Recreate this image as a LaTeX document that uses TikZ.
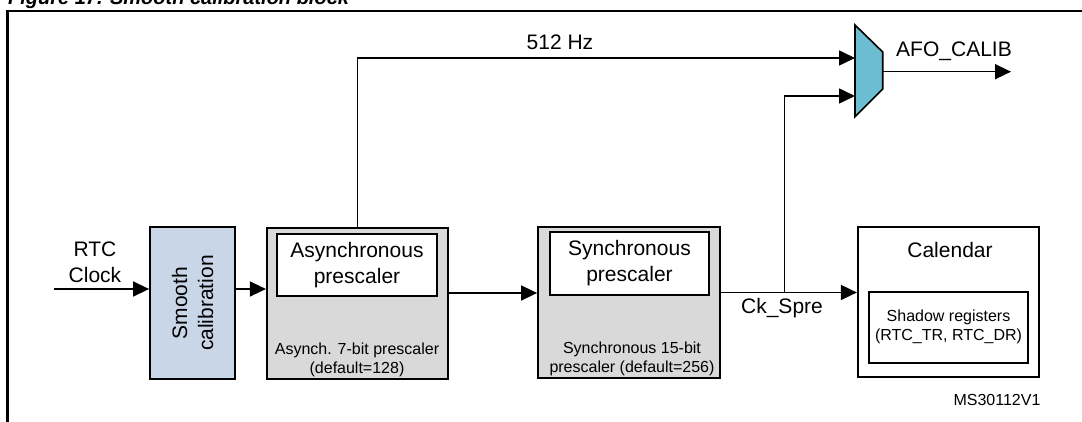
\documentclass[tikz,border=0pt]{standalone}
\usepackage{fontspec}
\setmainfont{Liberation Sans}
\usetikzlibrary{arrows.meta,calc}
\definecolor{smoothblue}{HTML}{C9D6E8}
\definecolor{boxgray}{HTML}{D9D9D9}
\definecolor{muxcyan}{HTML}{6CBDD2}
\tikzset{
  bigtext/.style={font=\fontsize{21}{26}\selectfont, align=center},
  smalltext/.style={font=\fontsize{16}{19}\selectfont, align=center},
  blockbox/.style={draw, line width=1.8pt, inner sep=0pt, minimum width=#1},
  conn/.style={line width=1.6pt},
  arr/.style={conn, -{Triangle[length=16pt,width=15pt]}},
}
\begin{document}
\begin{tikzpicture}[x=1pt,y=-1pt]
\useasboundingbox (0,0) rectangle (1082,422);
\clip (0,0) rectangle (1082,422);
% title (cut at top) and frame
\node[anchor=base west, inner sep=0pt, font=\bfseries\itshape\fontsize{20}{24}\selectfont] (title) at (8,4.5) {Figure 17. Smooth calibration block};
\draw[line width=2.4pt] (1082,11) -- (7.5,11) -- (7.5,422);

% smooth calibration
\node[blockbox=85pt, minimum height=152pt, fill=smoothblue] (smooth) at (192.5,303) {};
\node[bigtext, rotate=90] (smoothtxt) at (smooth.center) {Smooth\\calibration};

% asynchronous prescaler
\node[blockbox=181pt, minimum height=151pt, fill=boxgray] (async) at (357.3,303.5) {};
\node[blockbox=160pt, minimum height=62pt, fill=white, bigtext] (asyncin) at (357,265) {Asynchronous\\prescaler};
\node[smalltext] (asynctxt) at (357,360) {Asynch. 7-bit prescaler\\(default=128)};

% synchronous prescaler
\node[blockbox=182pt, minimum height=151pt, fill=boxgray] (sync) at (629,302.5) {};
\node[blockbox=159pt, minimum height=63pt, fill=white, bigtext] (syncin) at (629.5,263.5) {Synchronous\\prescaler};
\node[smalltext] (synctxt) at (632,358.5) {Synchronous 15-bit\\prescaler (default=256)};

% calendar
\node[blockbox=181pt, minimum height=150pt, fill=white] (cal) at (948.3,302) {};
\node[bigtext] (caltxt) at (950,250) {Calendar};
\node[blockbox=159pt, minimum height=71pt, fill=white, smalltext] (shadow) at (948.5,327.3) {Shadow registers\\(RTC\_TR, RTC\_DR)};

% multiplexer
\coordinate (muxtl) at (855,25);
\coordinate (muxbl) at (855,116.7);
\coordinate (muxtr) at (882.7,52);
\coordinate (muxbr) at (882.7,89);
\draw[line width=1.6pt, fill=muxcyan, line join=miter] (muxtl) -- (muxtr) -- (muxbr) -- (muxbl) -- cycle;
\coordinate (mux1) at (855,58);
\coordinate (mux2) at (855,96);
\coordinate (muxout) at (882.7,71.7);
\coordinate (outend) at (1011,71.7);

% connectors
\coordinate (rtcin) at (54,289);
\coordinate (asyncout) at (448,293);
\coordinate (syncout) at (720,292.5);
\coordinate (br) at (784.5,292.5);
\draw[arr] (rtcin) -- (rtcin -| smooth.west);
\draw[arr] (smooth.east |- rtcin) -- (async.west |- rtcin);
\draw[arr] (async.north) |- (mux1);
\draw[arr] (asyncout) -- (sync.west |- asyncout);
\draw[arr] (syncout) -- (cal.west |- syncout);
\draw[arr] (br) |- (mux2);
\draw[arr] (muxout) -- (outend);

% labels
\node[bigtext] (rtclbl) at (95,262) {RTC\\Clock};
\node[bigtext] (hzlbl) at (560,42) {512 Hz};
\node[bigtext] (afolbl) at (954,51) {AFO\_CALIB};
\node[bigtext] (cklbl) at (782,308) {Ck\_Spre};
\node[smalltext] (mslbl) at (997,400) {MS30112V1};
\end{tikzpicture}
\end{document}
